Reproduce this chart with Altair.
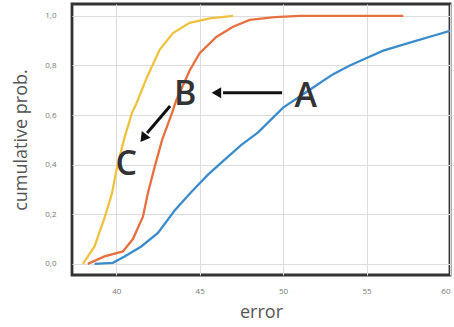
import altair as alt
import pandas as pd

# series A (blue)
a_x = [38.7, 39.8, 40.5, 41.5, 42.5, 43.5, 44.5, 45.5, 46.5, 47.5, 48.5, 50.0, 51.0, 52.0, 53.0, 54.0, 55.0, 56.0, 57.0, 58.0, 59.0, 60.0]
a_y = [0.0, 0.004, 0.03, 0.07, 0.125, 0.215, 0.29, 0.36, 0.42, 0.48, 0.53, 0.63, 0.675, 0.72, 0.765, 0.80, 0.83, 0.86, 0.88, 0.90, 0.92, 0.94]
# series B (orange)
b_x = [38.3, 39.3, 40.4, 41.0, 41.6, 41.9, 42.3, 42.75, 43.35, 43.6, 44.4, 45.0, 46.0, 47.0, 48.0, 49.5, 51.0, 57.2]
b_y = [0.0, 0.03, 0.05, 0.10, 0.19, 0.286, 0.39, 0.50, 0.61, 0.66, 0.78, 0.85, 0.915, 0.956, 0.984, 0.995, 1.0, 1.0]
# series C (yellow)
c_x = [38.0, 38.7, 39.3, 39.75, 40.05, 40.5, 40.95, 41.2, 41.85, 42.6, 43.4, 44.4, 45.6, 47.0]
c_y = [0.0, 0.07, 0.185, 0.286, 0.39, 0.51, 0.61, 0.645, 0.754, 0.863, 0.931, 0.972, 0.99, 1.0]

series_names = ["A", "B", "C"]
series_colors = ["#3a8ccb", "#e6703f", "#eec23e"]

# annotation letters
lab_text = ["A", "B", "C"]
lab_x = [51.35, 44.13, 40.6]
lab_y = [0.633, 0.641, 0.359]

# arrows (line part)
arr_x1 = [49.94, 43.23]
arr_y1 = [0.69, 0.637]
arr_x2 = [46.4, 41.85]
arr_y2 = [0.69, 0.528]
# arrow heads
head_x = [46.1, 41.68]
head_y = [0.69, 0.512]
head_angle = [270, 217]

rows = []
for name, xs, ys in zip(series_names, [a_x, b_x, c_x], [a_y, b_y, c_y]):
    for x, y in zip(xs, ys):
        rows.append({"error": x, "prob": y, "series": name})
df = pd.DataFrame(rows)

xscale = alt.Scale(domain=[37.35, 60], nice=False, zero=False)
yscale = alt.Scale(domain=[-0.045, 1.048], nice=False, zero=False)

lines = alt.Chart(df).mark_line(strokeWidth=2.3, clip=True).encode(
    x=alt.X("error:Q", scale=xscale,
            axis=alt.Axis(title="error", values=[40, 45, 50, 55, 60], format="d")),
    y=alt.Y("prob:Q", scale=yscale,
            axis=alt.Axis(title="cumulative prob.", values=[0, 0.2, 0.4, 0.6, 0.8, 1.0],
                          labelExpr="replace(format(datum.value, '.1f'), '.', ',')")),
    color=alt.Color("series:N", scale=alt.Scale(domain=series_names, range=series_colors), legend=None),
    order=alt.Order("error:Q"),
)

lab_df = pd.DataFrame({"x": lab_x, "y": lab_y, "t": lab_text})
labels = alt.Chart(lab_df).mark_text(
    font="Open Sans", fontSize=34, fontWeight=600, color="#333333", align="center", baseline="alphabetic"
).encode(x=alt.X("x:Q", scale=xscale), y=alt.Y("y:Q", scale=yscale), text="t:N")

arr_df = pd.DataFrame({"x": arr_x1, "y": arr_y1, "x2": arr_x2, "y2": arr_y2})
arrows = alt.Chart(arr_df).mark_rule(strokeWidth=3, color="#111111").encode(
    x=alt.X("x:Q", scale=xscale), y=alt.Y("y:Q", scale=yscale), x2="x2:Q", y2="y2:Q"
)

head_df = pd.DataFrame({"x": head_x, "y": head_y, "a": head_angle})
heads = alt.Chart(head_df).mark_point(
    shape="triangle", filled=True, size=120, color="#111111", opacity=1
).encode(
    x=alt.X("x:Q", scale=xscale), y=alt.Y("y:Q", scale=yscale),
    angle=alt.Angle("a:Q", scale=None)
)

chart = alt.layer(lines, arrows, heads, labels).properties(
    width=378, height=271,
    autosize=alt.AutoSizeParams(type="none"),
    padding={"left": 72, "top": 4, "right": 4, "bottom": 52},
    background="white",
).configure_view(
    stroke="#333333", strokeWidth=2.8
).configure_axis(
    domain=False, ticks=False, grid=True, gridColor="#dddddd", gridWidth=1,
    labelFont="Open Sans", labelFontSize=8, labelColor="#777777",
    titleFont="Open Sans", titleFontSize=18, titleFontWeight="normal", titleColor="#555555",
).configure_axisY(
    labelPadding=16, titlePadding=14
).configure_axisX(
    labelPadding=12, titlePadding=8
)

chart.save("out.html", embed_options={"renderer": "svg", "actions": False})
